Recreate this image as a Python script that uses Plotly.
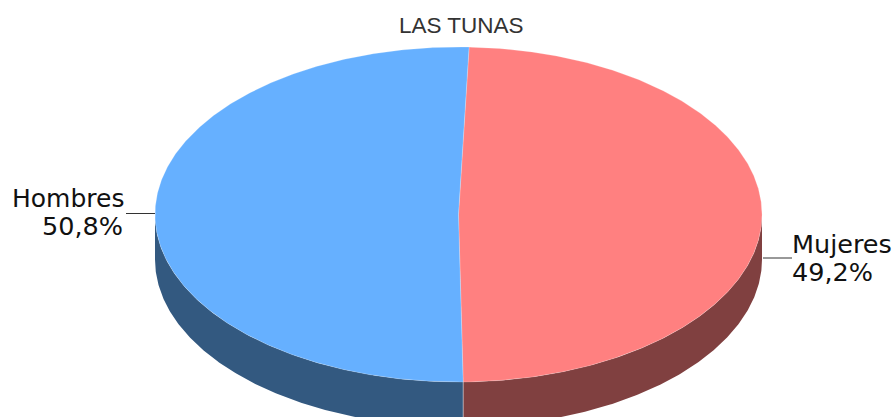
import numpy as np
import plotly.graph_objects as go

title = "LAS TUNAS"
categories = ["Mujeres", "Hombres"]
values = [49.2, 50.8]
value_labels = ["49,2%", "50,8%"]
top_colors = ["#FF8080", "#66B0FF"]
side_colors = ["#804040", "#335980"]

W, H = 896, 417
CX, CY, RX, RY, DEPTH = 458.5, 214.5, 303.5, 167.5, 45
START = 2.0


def pt(a, dy=0.0):
    a = np.radians(a)
    return CX + RX * np.sin(a), CY + dy - RY * np.cos(a)


fig = go.Figure()
spans = []
s = START
for v in values:
    e = s + v / sum(values) * 360
    spans.append((s, e))
    s = e

# sides (only the front half of the rim is visible)
for (a0, a1), col in zip(spans, side_colors):
    lo, hi = max(a0, 90), min(a1, 270)
    t = np.linspace(lo, hi, 200)
    x0, y0 = pt(t)
    x1, y1 = pt(t[::-1], DEPTH)
    fig.add_trace(go.Scatter(x=np.r_[x0, x1], y=np.r_[y0, y1], fill="toself", fillcolor=col,
                             mode="lines", line=dict(width=0), hoverinfo="skip"))
# seam on the rim
sx, sy = pt(np.array([spans[0][1], spans[0][1]]), 0)
fig.add_trace(go.Scatter(x=sx, y=[sy[0], sy[0] + DEPTH], mode="lines",
                         line=dict(color="rgba(255,255,255,0.45)", width=1), hoverinfo="skip"))
# tops
for (a0, a1), col in zip(spans, top_colors):
    t = np.linspace(a0, a1, 400)
    x0, y0 = pt(t)
    fig.add_trace(go.Scatter(x=np.r_[CX, x0, CX], y=np.r_[CY, y0, CY], fill="toself", fillcolor=col,
                             mode="lines", line=dict(width=0.6, color="rgba(255,255,255,0.35)"),
                             hoverinfo="skip"))

# leader lines
fig.add_trace(go.Scatter(x=[763, 792], y=[258, 258], mode="lines", line=dict(color="#333333", width=1), hoverinfo="skip"))
fig.add_trace(go.Scatter(x=[126, 155], y=[213.5, 213.5], mode="lines", line=dict(color="#333333", width=1), hoverinfo="skip"))

FONT = "DejaVu Sans"
anns = [
    dict(x=461.5, y=25, text=title, xanchor="center", font=dict(size=22.5, color="#333333", family="Liberation Sans")),
    dict(x=126, y=198, text=categories[1], xanchor="right", font=dict(size=25, color="#111111", family=FONT)),
    dict(x=125, y=226, text=value_labels[1], xanchor="right", font=dict(size=25.5, color="#111111", family=FONT)),
    dict(x=790, y=244, text=categories[0], xanchor="left", font=dict(size=25.5, color="#111111", family=FONT)),
    dict(x=790, y=272, text=value_labels[0], xanchor="left", font=dict(size=25.5, color="#111111", family=FONT)),
]
for a in anns:
    a.update(xref="x", yref="y", yanchor="middle", showarrow=False, xshift=0)

fig.update_layout(
    width=W, height=H, margin=dict(l=0, r=0, t=0, b=0), showlegend=False,
    paper_bgcolor="white", plot_bgcolor="white", annotations=anns,
    xaxis=dict(range=[0, W], visible=False, fixedrange=True),
    yaxis=dict(range=[H, 0], visible=False, fixedrange=True),
)
fig.write_html("out.html", config=dict(displayModeBar=False),
               post_script="document.body.style.margin='0';document.body.style.overflow='hidden';")
